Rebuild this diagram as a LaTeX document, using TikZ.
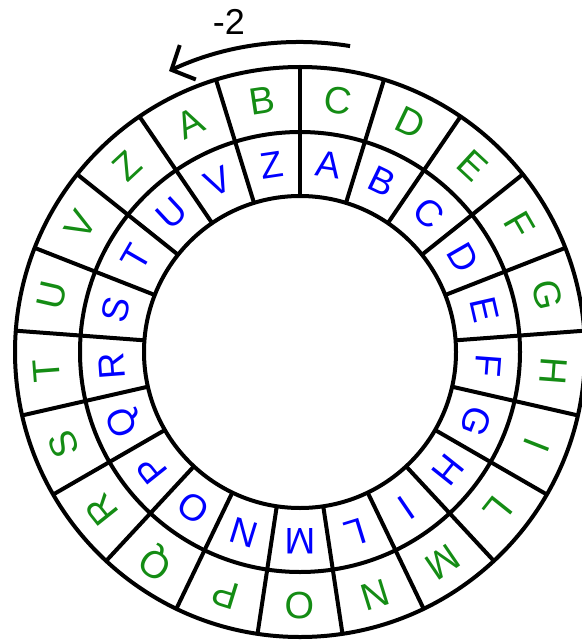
\documentclass[tikz,border=0pt]{standalone}
\usepackage{fontspec}
\setmainfont{Liberation Sans}
\usetikzlibrary{arrows.meta}
\definecolor{lettergreen}{RGB}{20,140,20}
\definecolor{letterblue}{RGB}{0,0,255}
\begin{document}
\begin{tikzpicture}[x=1pt,y=1pt,
  ring/.style={line width=4pt,draw=black},
  spoke/.style={line width=4pt,draw=black},
  outerletter/.style={text=lettergreen,font=\fontsize{38}{38}\selectfont,inner sep=0pt},
  innerletter/.style={text=letterblue,font=\fontsize{37}{37}\selectfont,inner sep=0pt},
  shiftarrow/.style={line width=4pt,-{Straight Barb[length=18pt,width=38pt,line width=4pt]}},
  shiftlabel/.style={font=\fontsize{36}{36}\selectfont,inner sep=0pt}]
\useasboundingbox (0,0) rectangle (581,-644);
\begin{scope}[shift={(300,-352)}]
  \coordinate (C) at (0,0);
  \draw[ring] (C) circle[radius=285];
  \draw[ring] (C) circle[radius=220];
  \draw[ring] (C) circle[radius=156];
  \foreach \k in {0,...,20}{
    \pgfmathsetmacro{\ang}{90+\k*360/21}
    \draw[spoke] (\ang:156) -- (\ang:285);
  }
  \foreach \L [count=\i from 0] in {A,B,C,D,E,F,G,H,I,L,M,N,O,P,Q,R,S,T,U,V,Z}{
    \pgfmathsetmacro{\ao}{90+360/42-(\i-1)*360/21}
    \pgfmathsetmacro{\ai}{90-360/42-\i*360/21}
    \node[outerletter,rotate=\ao-90] (o\i) at (\ao:254) {\L};
    \node[innerletter,rotate=\ai-90] (n\i) at (\ai:189) {\L};
  }
  \coordinate (arrowstart) at (80.7:310);
  \draw[shiftarrow] (arrowstart) arc[start angle=80.7,end angle=115,radius=310];
  \node[shiftlabel] (shift) at (-71,330) {-2};
\end{scope}
\end{tikzpicture}
\end{document}
